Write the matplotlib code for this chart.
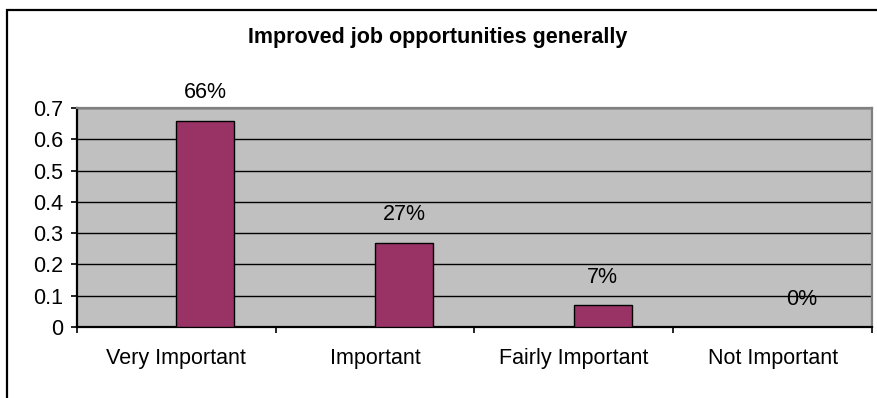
import matplotlib
matplotlib.use("Agg")
import matplotlib.pyplot as plt
from matplotlib.patches import Rectangle

plt.rcParams['font.family'] = ['Liberation Sans', 'DejaVu Sans']

categories = ["Very Important", "Important", "Fairly Important", "Not Important"]
shares = [0.66, 0.27, 0.07, 0.0]
share_labels = ["66%", "27%", "7%", "0%"]
yticks = [0, 0.1, 0.2, 0.3, 0.4, 0.5, 0.6, 0.7]

fig = plt.figure(figsize=(8.78, 3.98), dpi=100)
ax = fig.add_axes([77 / 878, 1 - 327 / 398, 795 / 878, 219 / 398])

# chart frame around the whole figure
fig.patches.append(Rectangle((7 / 878, -0.1), 1.2, 388 / 398 + 0.1,
                             transform=fig.transFigure, fill=False,
                             edgecolor="black", linewidth=1.6))

ax.set_facecolor("#C0C0C0")
x = list(range(len(categories)))
# bars sit in the right half of each category slot (empty first series slot on the left)
bars = ax.bar(x, shares, width=0.29, align="edge", color="#993366",
              edgecolor="black", linewidth=1.0, zorder=3)

for rect, lab in zip(bars, share_labels):
    cx = rect.get_x() + rect.get_width() / 2
    ax.annotate(lab, (cx, rect.get_height()), xytext=(0, 20), textcoords="offset points",
                ha="center", va="center", fontsize=15.5, annotation_clip=False)

ax.set_xlim(-0.5, len(categories) - 0.5)
ax.set_ylim(0, 0.7)
ax.set_yticks(yticks)
ax.set_yticklabels([f"{t:g}" for t in yticks], fontsize=15.5)
ax.yaxis.grid(True, color="black", linewidth=1.0)
ax.set_axisbelow(True)

ax.set_xticks(x)
ax.set_xticklabels(categories, fontsize=15.5)
ax.set_xticks([i - 0.5 for i in range(len(categories) + 1)], minor=True)
ax.tick_params(axis="x", which="major", length=0, pad=15)
ax.tick_params(axis="x", which="minor", length=4.5, width=1.2, direction="out")
ax.tick_params(axis="y", length=4, width=1.2, direction="out", pad=6)

for side in ("left", "bottom"):
    ax.spines[side].set_color("black")
    ax.spines[side].set_linewidth(1.6)
for side in ("top", "right"):
    ax.spines[side].set_color("#808080")
    ax.spines[side].set_linewidth(1.6)

fig.text(438 / 878, 1 - 37 / 398, "Improved job opportunities generally",
         ha="center", va="center", fontsize=15.5, fontweight="bold")

fig.savefig("out.png", dpi=100)
